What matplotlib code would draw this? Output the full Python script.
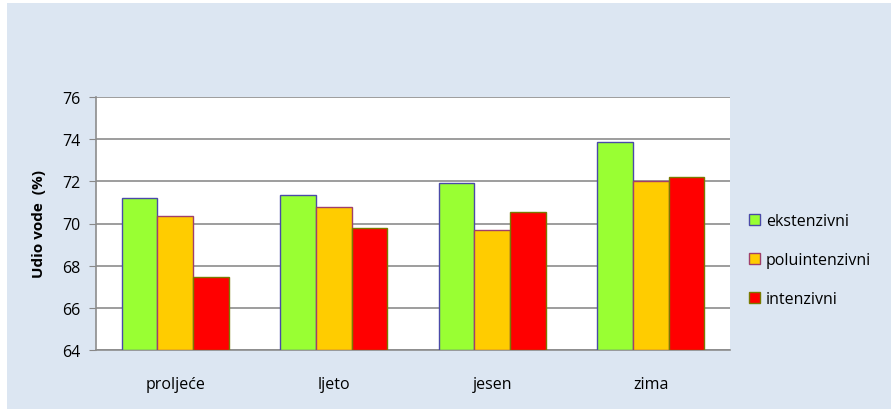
import matplotlib.pyplot as plt
import matplotlib.patches as mpatches
import numpy as np

plt.rcParams['font.family'] = ['Open Sans', 'DejaVu Sans']

categories = ["proljeće", "ljeto", "jesen", "zima"]
series_names = ["ekstenzivni", "poluintenzivni", "intenzivni"]
ekstenzivni = [71.2, 71.35, 71.9, 73.85]
poluintenzivni = [70.35, 70.8, 69.7, 72.0]
intenzivni = [67.45, 69.8, 70.55, 72.2]
y_ticks = [64, 66, 68, 70, 72, 74, 76]

fills = ["#99ff33", "#ffcc00", "#ff0000"]
edges = ["#4a4aa8", "#a0406a", "#7a7a00"]
bg = "#dce6f2"

fig = plt.figure(figsize=(8.91, 4.10), dpi=100)
fig.patch.set_facecolor("white")
fig.patches.append(mpatches.Rectangle((7 / 891, 0), 1, 1 - 4 / 410,
                                      transform=fig.transFigure,
                                      facecolor=bg, edgecolor="none", zorder=0))

ax = fig.add_axes([96 / 891, 59 / 410, 634 / 891, 253 / 410])
ax.set_zorder(2)
ax.set_facecolor("white")

x = np.arange(len(categories))
w = 0.224
for i, vals in enumerate([ekstenzivni, poluintenzivni, intenzivni]):
    ax.bar(x + (i - 1) * w, np.array(vals) - 64, bottom=64, width=w,
           color=fills[i], edgecolor=edges[i], linewidth=1.0,
           label=series_names[i], zorder=3)

ax.set_xlim(-0.5, len(categories) - 0.5)
ax.set_ylim(64, 76)
ax.set_yticks(y_ticks)
ax.set_xticks(x)
ax.set_xticklabels(categories, fontsize=11.5)
ax.tick_params(axis='x', length=0, pad=19)
ax.tick_params(axis='y', length=5, color="#888888", labelsize=11.5, pad=6)
ax.yaxis.grid(True, color="#8c8c8c", linewidth=1.2, zorder=1)
ax.set_axisbelow(True)
for s in ["top", "right"]:
    ax.spines[s].set_visible(False)
for s in ["left", "bottom"]:
    ax.spines[s].set_color("#8c8c8c")
    ax.spines[s].set_linewidth(1.2)

ax.set_ylabel("Udio vode  (%)", fontsize=11, fontweight="bold", labelpad=12)

leg = ax.legend(loc="center left", bbox_to_anchor=(1.02, 0.355), frameon=False,
                fontsize=11.5, handlelength=0.7, handleheight=0.7,
                handletextpad=0.35, labelspacing=1.45, borderaxespad=0)

plt.savefig("out.png", dpi=100, facecolor=fig.get_facecolor())
